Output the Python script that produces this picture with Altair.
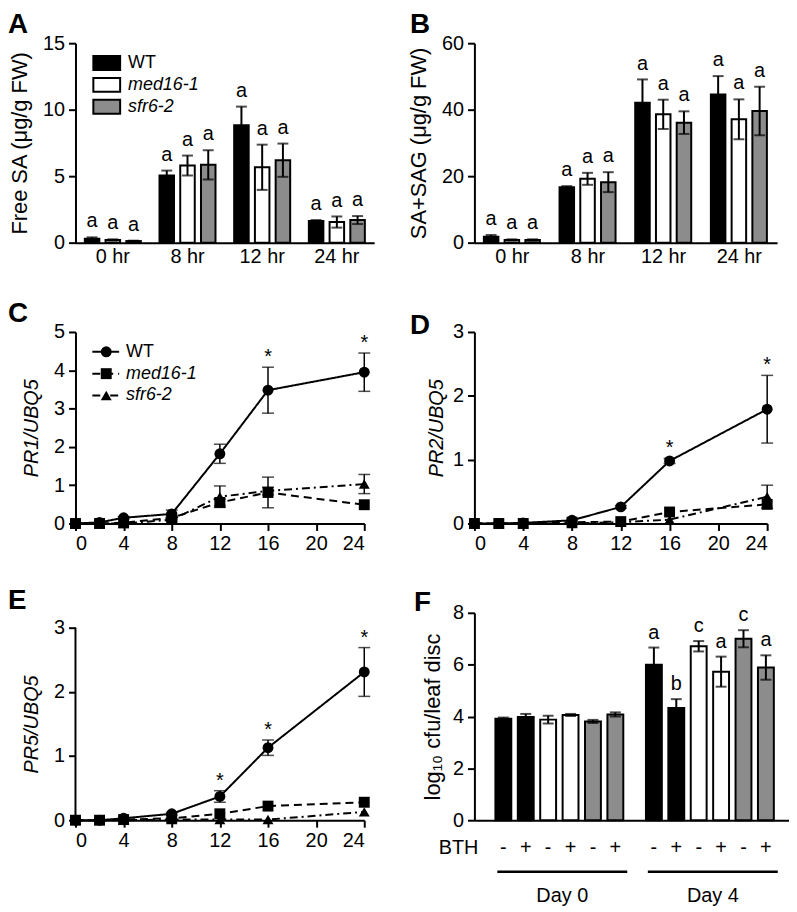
import altair as alt
import pandas as pd

FONT = "Liberation Sans"
GENOS = ["WT", "med16-1", "sfr6-2"]
FILLS = ["#000000", "#ffffff", "#8c8c8c"]

# ---------------- Panel A : Free SA ----------------
A_times = ["0 hr", "8 hr", "12 hr", "24 hr"]
A_WT = [0.3, 5.05, 8.83, 1.62]
A_WT_err = [0.1, 0.37, 1.4, 0.08]
A_med = [0.2, 5.8, 5.67, 1.55]
A_med_err = [0.05, 0.75, 1.7, 0.42]
A_sfr = [0.12, 5.85, 6.2, 1.7]
A_sfr_err = [0.03, 1.1, 1.25, 0.3]
A_letters = [["a", "a", "a", "a"], ["a", "a", "a", "a"], ["a", "a", "a", "a"]]

# ---------------- Panel B : SA+SAG ----------------
B_WT = [1.8, 16.7, 42.1, 44.6]
B_WT_err = [0.5, 0.3, 7.0, 5.5]
B_med = [0.8, 19.2, 38.6, 37.1]
B_med_err = [0.2, 1.8, 4.4, 6.0]
B_sfr = [0.8, 18.2, 36.1, 39.6]
B_sfr_err = [0.2, 3.0, 3.4, 7.3]
B_letters = [["a", "a", "a", "a"], ["a", "a", "a", "a"], ["a", "a", "a", "a"]]

# ---------------- Panels C-E : time courses ----------------
T = [0, 2, 4, 8, 12, 16, 24]
T_ticks = [0, 4, 8, 12, 16, 20, 24]

C_WT = [0.0, 0.03, 0.15, 0.25, 1.82, 3.48, 3.95]
C_WT_err = [0, 0, 0.03, 0.1, 0.25, 0.6, 0.5]
C_med = [0.0, 0.0, 0.02, 0.15, 0.55, 0.81, 0.49]
C_med_err = [0, 0, 0, 0.05, 0.08, 0.4, 0]
C_sfr = [0.0, 0.0, 0.0, 0.1, 0.7, 0.85, 1.03]
C_sfr_err = [0, 0, 0, 0.05, 0.28, 0.1, 0.25]
C_stars = [16, 24]

D_WT = [0.0, 0.0, 0.01, 0.05, 0.26, 0.98, 1.79]
D_WT_err = [0, 0, 0, 0, 0.02, 0.04, 0.53]
D_med = [0.0, 0.0, 0.0, 0.02, 0.03, 0.18, 0.3]
D_med_err = [0, 0, 0, 0, 0, 0, 0]
D_sfr = [0.0, 0.0, 0.0, 0.0, 0.02, 0.06, 0.42]
D_sfr_err = [0, 0, 0, 0, 0, 0, 0.18]
D_stars = [16, 24]

E_WT = [0.0, 0.0, 0.03, 0.1, 0.37, 1.13, 2.31]
E_WT_err = [0, 0, 0, 0.02, 0.09, 0.12, 0.38]
E_med = [0.0, 0.0, 0.01, 0.03, 0.1, 0.22, 0.28]
E_med_err = [0, 0, 0, 0, 0, 0, 0]
E_sfr = [0.0, 0.0, 0.0, 0.01, 0.01, 0.01, 0.13]
E_sfr_err = [0, 0, 0, 0, 0, 0, 0]
E_stars = [12, 16, 24]

# ---------------- Panel F : bacterial growth ----------------
F_geno = ["WT", "WT", "med16-1", "med16-1", "sfr6-2", "sfr6-2"]
F_bth = ["-", "+", "-", "+", "-", "+"]
F_day0 = [3.91, 3.98, 3.88, 4.06, 3.81, 4.08]
F_day0_err = [0.05, 0.12, 0.15, 0.04, 0.06, 0.08]
F_day4 = [6.0, 4.33, 6.71, 5.73, 7.0, 5.89]
F_day4_err = [0.66, 0.34, 0.2, 0.58, 0.33, 0.47]
F_day4_letters = ["a", "b", "c", "a", "c", "a"]
F_days = ["Day 0", "Day 4"]

LABEL_FS = 20
TEXT_FS = 20
TITLE_FS = 22
ITALIC_TITLE_FS = 20


def letter_layer(L, x, y):
    return alt.Chart(pd.DataFrame({"L": [L]})).mark_text(
        font=FONT, fontSize=28, fontWeight="bold", align="left",
        baseline="top", color="black"
    ).encode(x=alt.value(x), y=alt.value(y), text="L:N")


def bar_df(times, vals, errs, letters):
    rows = []
    for g, v, e, l in zip(GENOS, vals, errs, letters):
        for t, vv, ee, ll in zip(times, v, e, l):
            rows.append(dict(time=t, geno=g, val=vv, lo=max(vv - ee, 0), hi=vv + ee, letter=ll))
    return pd.DataFrame(rows)


def bar_panel(df, times, ymax, yvals, title, title_x, width, height, letter, lx, ly, legend):
    X = alt.X("time:N", sort=times,
              scale=alt.Scale(paddingInner=0.25, paddingOuter=0.125),
              axis=alt.Axis(title=None, ticks=False, labelAngle=0, labelPadding=4))
    XO = alt.XOffset("geno:N", sort=GENOS, scale=alt.Scale(paddingInner=0.3))
    yaxis = alt.Axis(values=yvals, title=title, titleX=title_x, titleY=height / 2,
                     titleAngle=270, titleAlign="center", titleBaseline="middle",
                     titleFontSize=TITLE_FS)
    ysc = alt.Scale(domain=[0, ymax], nice=False)
    base = alt.Chart(df).encode(x=X, xOffset=XO)
    bars = base.mark_bar(stroke="black", strokeWidth=2).encode(
        y=alt.Y("val:Q", scale=ysc, axis=yaxis),
        fill=alt.Fill("geno:N", scale=alt.Scale(domain=GENOS, range=FILLS), legend=None))
    rule = base.mark_rule(color="black", strokeWidth=2).encode(
        y=alt.Y("lo:Q", scale=ysc, axis=yaxis), y2="hi:Q")
    cap_hi = base.mark_tick(orient="horizontal", color="black", size=11, thickness=2).encode(
        y=alt.Y("hi:Q", scale=ysc, axis=yaxis))
    cap_lo = base.mark_tick(orient="horizontal", color="black", size=11, thickness=2).encode(
        y=alt.Y("lo:Q", scale=ysc, axis=yaxis))
    txt = base.mark_text(font=FONT, fontSize=TEXT_FS, dy=-16, color="black").encode(
        y=alt.Y("hi:Q", scale=ysc, axis=yaxis), text="letter:N")
    layers = [bars, rule, cap_hi, cap_lo, txt]
    if legend:
        for i, g in enumerate(GENOS):
            yc = 20 + 22 * i
            one = pd.DataFrame({"g": [g]})
            layers.append(alt.Chart(one).mark_rect(fill=FILLS[i], stroke="black", strokeWidth=2).encode(
                x=alt.value(18), x2=alt.value(45), y=alt.value(yc - 7), y2=alt.value(yc + 7)))
            layers.append(alt.Chart(one).mark_text(
                font=FONT, fontSize=18, align="left", baseline="middle", color="black",
                fontStyle="normal" if g == "WT" else "italic"
            ).encode(x=alt.value(53), y=alt.value(yc), text="g:N"))
    layers.append(letter_layer(letter, lx, ly))
    return alt.layer(*layers).properties(width=width, height=height)


DASHES = {"WT": [1, 0], "med16-1": [8, 5], "sfr6-2": [8, 4, 2, 4]}
SHAPES = {"WT": "circle", "med16-1": "square", "sfr6-2": "triangle-up"}


def line_panel(series, stars, ymax, yvals, title, title_x, width, height, letter, lx, ly,
               legend, scale_top=None):
    X = alt.X("t:Q", scale=alt.Scale(domain=[0, 24], nice=False),
              axis=alt.Axis(values=T_ticks, title=None, labelPadding=3))
    top = scale_top if scale_top is not None else ymax
    plot_h = height * ymax / top
    yaxis = alt.Axis(values=yvals, title=title, titleX=title_x, titleY=height - plot_h / 2,
                     titleAngle=270, titleAlign="center", titleBaseline="middle",
                     titleFontStyle="italic", titleFontSize=ITALIC_TITLE_FS,
                     domain=scale_top is None)
    ysc = alt.Scale(domain=[0, top], nice=False)
    layers = []
    if scale_top is not None:
        dom = pd.DataFrame({"y0": [0], "y1": [ymax]})
        layers.append(alt.Chart(dom).mark_rule(color="black", strokeWidth=2).encode(
            x=alt.value(0), y=alt.Y("y0:Q", scale=ysc, axis=yaxis), y2="y1:Q"))
    wt_df = None
    for geno, vals, errs in series:
        df = pd.DataFrame(dict(t=T, val=vals, err=errs))
        df["lo"] = (df["val"] - df["err"]).clip(lower=0)
        df["hi"] = df["val"] + df["err"]
        if geno == "WT":
            wt_df = df
        dfe = df[df["err"] > 0]
        layers.append(alt.Chart(df).mark_line(color="black", strokeWidth=2, strokeDash=DASHES[geno]).encode(
            x=X, y=alt.Y("val:Q", scale=ysc, axis=yaxis)))
        if len(dfe):
            layers.append(alt.Chart(dfe).mark_rule(color="black", strokeWidth=1.5).encode(
                x=X, y=alt.Y("lo:Q", scale=ysc, axis=yaxis), y2="hi:Q"))
            for c in ["lo", "hi"]:
                layers.append(alt.Chart(dfe).mark_tick(orient="horizontal", color="black", size=12, thickness=1.5).encode(
                    x=X, y=alt.Y(f"{c}:Q", scale=ysc, axis=yaxis)))
        layers.append(alt.Chart(df).mark_point(shape=SHAPES[geno], filled=True, size=121, color="black", opacity=1).encode(
            x=X, y=alt.Y("val:Q", scale=ysc, axis=yaxis)))
    sdf = wt_df[wt_df["t"].isin(stars)].assign(s="*")
    layers.append(alt.Chart(sdf).mark_text(font=FONT, fontSize=TEXT_FS, dy=-4, baseline="alphabetic", color="black").encode(
        x=X, y=alt.Y("hi:Q", scale=ysc, axis=yaxis), text="s:N"))
    if legend:
        for i, g in enumerate(GENOS):
            yc = 20 + 22 * i
            one = pd.DataFrame({"g": [g]})
            layers.append(alt.Chart(one).mark_rule(color="black", strokeWidth=2, strokeDash=DASHES[g]).encode(
                x=alt.value(17), x2=alt.value(44), y=alt.value(yc)))
            layers.append(alt.Chart(one).mark_point(shape=SHAPES[g], filled=True, size=121, color="black", opacity=1).encode(
                x=alt.value(31), y=alt.value(yc)))
            layers.append(alt.Chart(one).mark_text(
                font=FONT, fontSize=18, align="left", baseline="middle", color="black",
                fontStyle="normal" if g == "WT" else "italic"
            ).encode(x=alt.value(51), y=alt.value(yc), text="g:N"))
    layers.append(letter_layer(letter, lx, ly))
    return alt.layer(*layers).properties(width=width, height=height)


def f_panel(width, height, letter, lx, ly):
    gap = 0.72
    rows = []
    for d, (vals, errs) in enumerate([(F_day0, F_day0_err), (F_day4, F_day4_err)]):
        for i in range(6):
            v, e = vals[i], errs[i]
            rows.append(dict(pos=d * (6 + gap) + i, geno=F_geno[i], bth=F_bth[i], val=v,
                             lo=max(v - e, 0), hi=v + e, day=F_days[d],
                             letter=F_day4_letters[i] if d == 1 else ""))
    df = pd.DataFrame(rows)
    xsc = alt.Scale(domain=[-1.07, 12.53], nice=False, zero=False)
    xax = alt.Axis(title=None, labels=False, ticks=False, grid=False)
    X = alt.X("pos:Q", scale=xsc, axis=xax)
    yaxis = alt.Axis(values=[0, 2, 4, 6, 8], title="log\u2081\u2080 cfu/leaf disc", titleX=-42,
                     titleY=height / 2, titleAngle=270, titleAlign="center", titleBaseline="middle",
                     titleFontSize=TITLE_FS)
    ysc = alt.Scale(domain=[0, 8], nice=False)
    base = alt.Chart(df).encode(x=X)
    bars = base.mark_bar(width=16, stroke="black", strokeWidth=2).encode(
        y=alt.Y("val:Q", scale=ysc, axis=yaxis),
        fill=alt.Fill("geno:N", scale=alt.Scale(domain=GENOS, range=FILLS), legend=None))
    rule = base.mark_rule(color="black", strokeWidth=2).encode(y=alt.Y("lo:Q", scale=ysc, axis=yaxis), y2="hi:Q")
    cap_hi = base.mark_tick(orient="horizontal", color="black", size=11, thickness=2).encode(
        y=alt.Y("hi:Q", scale=ysc, axis=yaxis))
    cap_lo = base.mark_tick(orient="horizontal", color="black", size=11, thickness=2).encode(
        y=alt.Y("lo:Q", scale=ysc, axis=yaxis))
    txt = base.mark_text(font=FONT, fontSize=TEXT_FS, dy=-15, color="black").encode(
        y=alt.Y("hi:Q", scale=ysc, axis=yaxis), text="letter:N")
    signs = base.mark_text(font=FONT, fontSize=20, baseline="middle", color="black").encode(
        y=alt.value(237), text="bth:N")
    bth = alt.Chart(pd.DataFrame({"s": ["BTH"]})).mark_text(
        font=FONT, fontSize=20, baseline="middle", align="right", color="black"
    ).encode(x=alt.value(4), y=alt.value(237), text="s:N")
    grp = pd.DataFrame({"day": F_days,
                        "x1": [df[df.day == d]["pos"].min() - 0.27 for d in F_days],
                        "x2": [df[df.day == d]["pos"].max() + 0.53 for d in F_days]})
    grp["xc"] = (grp["x1"] + grp["x2"]) / 2
    lines = alt.Chart(grp).mark_rule(color="black", strokeWidth=2.5).encode(
        x=alt.X("x1:Q", scale=xsc, axis=xax), x2="x2:Q", y=alt.value(261))
    days = alt.Chart(grp).mark_text(font=FONT, fontSize=20, baseline="middle", color="black").encode(
        x=alt.X("xc:Q", scale=xsc, axis=xax), y=alt.value(285), text="day:N")
    layers = [bars, rule, cap_hi, cap_lo, txt, signs, bth, lines, days, letter_layer(letter, lx, ly)]
    return alt.layer(*layers).properties(width=width, height=height)


A = bar_panel(bar_df(A_times, [A_WT, A_med, A_sfr], [A_WT_err, A_med_err, A_sfr_err], A_letters),
              A_times, 15, [0, 5, 10, 15], "Free SA (\u03bcg/g FW)", -56, 301, 201, "A", -68, -32, True)
B = bar_panel(bar_df(A_times, [B_WT, B_med, B_sfr], [B_WT_err, B_med_err, B_sfr_err], B_letters),
              A_times, 60, [0, 20, 40, 60], "SA+SAG (\u03bcg/g FW)", -56, 305, 201, "B", -65, -32, False)
C = line_panel([("sfr6-2", C_sfr, C_sfr_err), ("med16-1", C_med, C_med_err), ("WT", C_WT, C_WT_err)],
               C_stars, 5, [0, 1, 2, 3, 4, 5], "PR1/UBQ5", -44, 291, 193, "C", -68, -32, True)
D = line_panel([("sfr6-2", D_sfr, D_sfr_err), ("med16-1", D_med, D_med_err), ("WT", D_WT, D_WT_err)],
               D_stars, 3, [0, 1, 2, 3], "PR2/UBQ5", -38, 295, 193, "D", -65, -20, False)
E = line_panel([("sfr6-2", E_sfr, E_sfr_err), ("med16-1", E_med, E_med_err), ("WT", E_WT, E_WT_err)],
               E_stars, 3, [0, 1, 2, 3], "PR5/UBQ5", -44, 291, 209, "E", -68, -26, False,
               scale_top=3 * 209 / 194)
F = f_panel(317, 209, "F", -61, -24)

chart = alt.concat(A, B, C, D, E, F, columns=2, bounds="flush",
                   spacing={"row": 90, "column": 101}).properties(
    padding=0, background="white"
).configure_view(stroke=None).configure_axis(
    domainColor="black", domainWidth=2, tickColor="black", tickWidth=2, tickSize=7,
    labelColor="black", labelFont=FONT, labelFontSize=LABEL_FS, labelPadding=4,
    titleFont=FONT, titleFontSize=TITLE_FS, titleFontWeight="normal", titleColor="black", grid=False
)

chart.save("out.html", embed_options={"renderer": "svg", "actions": False})
